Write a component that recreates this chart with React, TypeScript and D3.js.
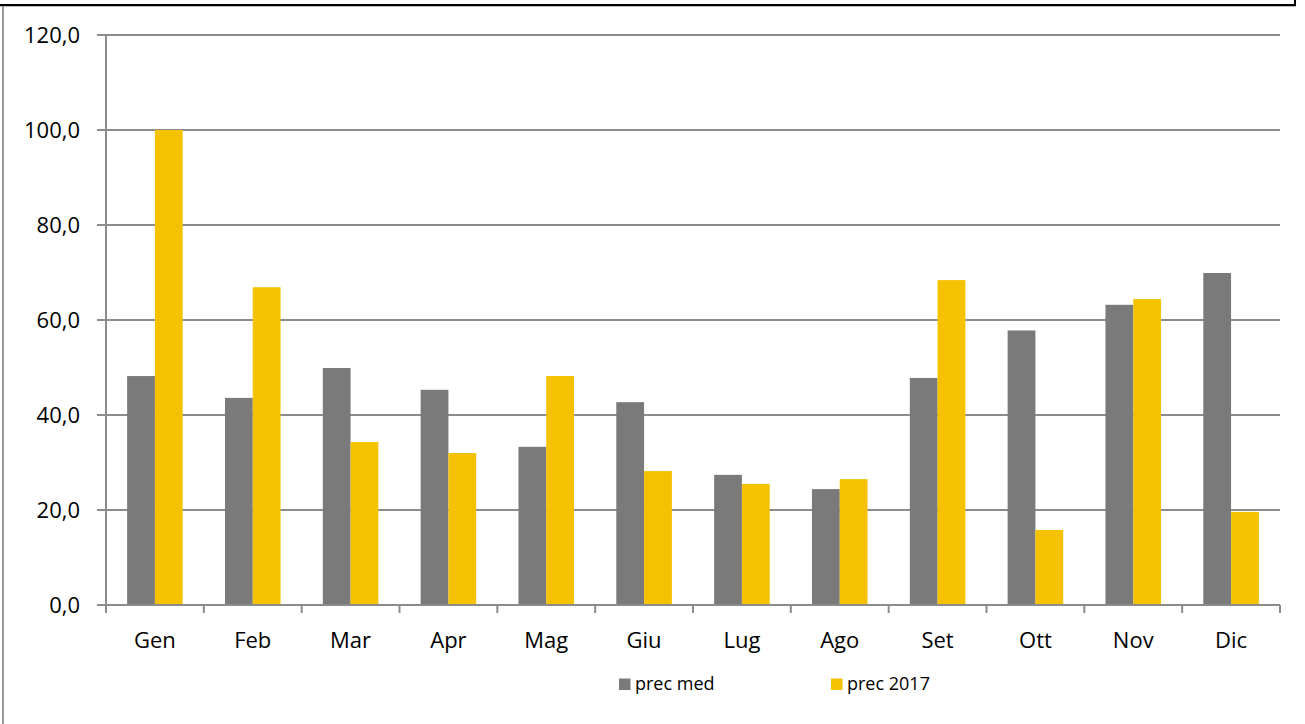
import React from 'react';
import * as d3 from 'd3';

// monthly precipitation: long-term mean vs 2017
const months = ['Gen', 'Feb', 'Mar', 'Apr', 'Mag', 'Giu', 'Lug', 'Ago', 'Set', 'Ott', 'Nov', 'Dic'];
const precMed = [48.2, 43.6, 49.9, 45.3, 33.3, 42.7, 27.4, 24.4, 47.8, 57.8, 63.2, 69.9];
const prec2017 = [100.0, 66.9, 34.3, 32.0, 48.2, 28.2, 25.5, 26.5, 68.4, 15.8, 64.4, 19.6];
const yTicks = [0, 20, 40, 60, 80, 100, 120];
const seriesNames = ['prec med', 'prec 2017'];

const W = 1305;
const H = 724;
const GRAY = '#7a7a7a';
const YELLOW = '#f4c200';
const GRID = '#8c8c8c';
const FONT = "'Open Sans', sans-serif";

const App = () => {
    const left = 106, right = 1280, top = 35, bottom = 605;

    const x = d3.scaleBand()
        .domain(months)
        .range([left, right])
        .padding(0);
    const y = d3.scaleLinear()
        .domain([0, 120])
        .range([bottom, top]);

    const bw = x.bandwidth() * 0.284;
    const fmt = (v) => d3.format('.1f')(v).replace('.', ',');

    return (
        <svg width={W} height={H} style={{ position: 'absolute', left: 0, top: 0, display: 'block' }}>
            <rect x={0} y={0} width={W} height={H} fill="#fff" />
            {/* outer frame (cropped) */}
            <line x1={0} x2={1296} y1={5} y2={5} stroke="#000" strokeWidth={2} />
            <line x1={0} x2={1296} y1={6.5} y2={6.5} stroke="#bbb" strokeWidth={1} />
            <line x1={1295} x2={1295} y1={0} y2={6} stroke="#000" strokeWidth={2} />
            <line x1={3} x2={3} y1={6} y2={H} stroke="#999" strokeWidth={2} />

            {/* gridlines + y ticks */}
            {yTicks.map(t => (
                <g key={t}>
                    <line x1={97} x2={right} y1={y(t)} y2={y(t)} stroke={GRID} strokeWidth={2} />
                    <text x={80} y={y(t)} dy="0.36em" textAnchor="end"
                        fontFamily={FONT} fontSize={22} fill="#000">{fmt(t)}</text>
                </g>
            ))}

            {/* bars */}
            {months.map((m, i) => {
                const c = x(m) + x.bandwidth() / 2;
                return (
                    <g key={m}>
                        <rect x={c - bw} y={y(precMed[i])} width={bw} height={bottom - y(precMed[i])} fill={GRAY} />
                        <rect x={c} y={y(prec2017[i])} width={bw} height={bottom - y(prec2017[i])} fill={YELLOW} />
                    </g>
                );
            })}

            {/* axes */}
            <line x1={left} x2={left} y1={top} y2={613} stroke={GRID} strokeWidth={2} />
            <line x1={97} x2={right} y1={bottom} y2={bottom} stroke={GRID} strokeWidth={2} />
            {months.map(m => (
                <line key={m} x1={x(m) + x.bandwidth()} x2={x(m) + x.bandwidth()} y1={bottom} y2={613}
                    stroke={GRID} strokeWidth={2} />
            ))}
            {months.map(m => (
                <text key={m} x={x(m) + x.bandwidth() / 2} y={648} textAnchor="middle"
                    fontFamily={FONT} fontSize={22} fill="#000">{m}</text>
            ))}

            {/* legend */}
            {seriesNames.map((s, i) => {
                const lx = i === 0 ? 619 : 831;
                return (
                    <g key={s}>
                        <rect x={lx} y={678.5} width={11.5} height={11.5} fill={i === 0 ? GRAY : YELLOW} />
                        <text x={lx + 16} y={690} fontFamily={FONT} fontSize={18} fill="#000">{s}</text>
                    </g>
                );
            })}
        </svg>
    );
};

export default App;
